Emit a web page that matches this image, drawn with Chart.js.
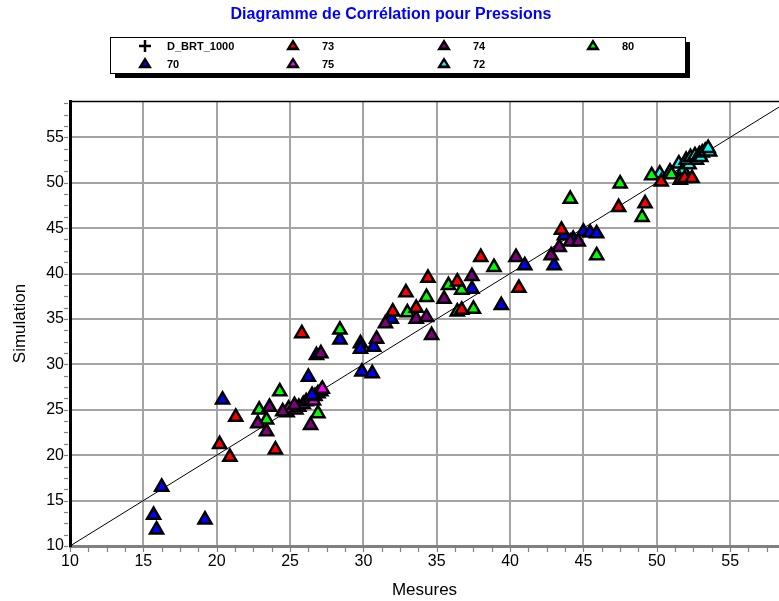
<!DOCTYPE html>
<html><head><meta charset="utf-8">
<script src="https://cdn.jsdelivr.net/npm/chart.js@4.4.0/dist/chart.umd.min.js"></script>
<style>html,body{margin:0;padding:0;background:#fff;}#wrap{position:relative;width:779px;height:601px;overflow:hidden;}</style>
</head><body><div id="wrap"><canvas id="c" width="779" height="601"></canvas></div>
<script>
const chartTitle = 'Diagramme de Corrélation pour Pressions';
const xTitle = 'Mesures';
const yTitle = 'Simulation';
const seriesNames = ['D_BRT_1000', '73', '74', '80', '70', '75', '72'];
const seriesColors = ['#000000', '#ff0000', '#800080', '#00ff00', '#0000ff', '#ff00ff', '#00ffff'];
const xRange = [10, 58.33];
const yRange = [10, 59];
const tickStep = 5;
const minorStep = 1.25;
const diagonal = [[10, 10], [60, 60]];

const sD_BRT_1000 = [];
const s73 = [[20.2,21.2],[20.9,19.8],[21.3,24.2],[24.0,20.6],[25.8,33.4],[32.0,35.8],[32.9,37.9],[33.6,36.2],[34.4,39.5],[36.4,39.1],[36.7,36.0],[38.0,41.8],[40.6,38.4],[43.5,44.8],[47.4,47.3],[49.2,47.7],[50.3,50.1],[51.6,50.3],[51.9,50.5],[52.4,50.5]];
const s74 = [[22.8,23.5],[23.4,22.6],[23.6,25.3],[24.5,24.8],[26.4,23.3],[27.1,31.2],[30.9,32.8],[31.5,34.5],[33.6,35.0],[34.3,35.2],[34.65,33.2],[35.5,37.2],[37.4,39.7],[40.4,41.8],[42.8,42.0],[43.35,42.9],[44.1,43.5],[44.65,43.5],[25.3,25.5]];
const s80 = [[22.9,25.0],[23.4,23.9],[24.3,27.0],[26.9,24.6],[28.4,33.8],[33.0,35.7],[34.3,37.4],[35.8,38.7],[36.7,38.2],[36.4,35.8],[37.5,36.1],[38.9,40.7],[44.1,48.2],[45.9,42.0],[47.5,49.9],[49.0,46.2],[49.65,50.8],[51.0,50.9]];
const s70 = [[15.7,13.4],[15.9,11.8],[16.25,16.5],[19.2,12.9],[20.4,26.1],[26.25,28.6],[26.8,31.0],[28.4,32.7],[29.8,32.3],[29.8,31.7],[30.7,31.9],[29.9,29.2],[30.6,29.0],[31.9,35.0],[37.4,38.3],[39.4,36.5],[41.0,40.9],[43.0,40.9],[43.7,44.2],[45.0,44.6],[45.45,44.5],[45.9,44.4],[44.3,43.8],[26.5,26.6]];
const s75 = [[24.8,24.7],[24.9,25.1],[25.4,25.0],[25.6,25.3],[25.9,25.6],[26.1,25.9],[26.4,26.2],[26.6,26.0],[26.7,26.5],[26.9,26.8],[27.1,27.0],[27.2,27.3]];
const s72 = [[50.2,51.0],[50.9,51.2],[51.5,52.1],[51.8,51.4],[52.2,52.0],[52.0,52.5],[52.7,52.5],[52.3,52.8],[52.6,53.0],[52.9,53.1],[53.0,52.8],[53.1,53.3],[53.3,53.5],[53.6,53.4],[53.5,53.8]];
const seriesData = [sD_BRT_1000, s73, s74, s80, s70, s75, s72];

const FONT = "'Liberation Sans', Arial, sans-serif";

const datasets = seriesNames.map((name, i) => ({
  label: name,
  data: seriesData[i].map(p => ({x: p[0], y: p[1]})),
  showLine: false,
  pointStyle: i === 0 ? 'cross' : 'triangle',
  pointRadius: 7.5,
  pointHoverRadius: 7.5,
  pointBorderWidth: 2.5,
  pointBorderColor: '#000',
  pointBackgroundColor: seriesColors[i],
  order: 1
}));
datasets.push({
  label: 'diag',
  data: diagonal.map(p => ({x: p[0], y: p[1]})),
  showLine: true,
  borderColor: '#000',
  borderWidth: 1,
  pointRadius: 0,
  order: 10
});

const extras = {
  id: 'extras',
  afterDraw(chart) {
    const ctx = chart.ctx;
    const a = chart.chartArea;
    const xs = chart.scales.x, ys = chart.scales.y;
    ctx.save();
    ctx.strokeStyle = '#000'; ctx.lineWidth = 1.5;
    ctx.beginPath(); ctx.moveTo(a.left, a.top + 0.5); ctx.lineTo(a.right, a.top + 0.5); ctx.stroke();
    ctx.strokeStyle = '#808080'; ctx.lineWidth = 1.2;
    for (let v = xRange[0]; v <= xRange[1] + 1e-6; v += minorStep) {
      const px = Math.round(xs.getPixelForValue(v)) + 0.5;
      ctx.beginPath(); ctx.moveTo(px, a.bottom + 1); ctx.lineTo(px, a.bottom + 6); ctx.stroke();
    }
    for (let v = yRange[0]; v <= yRange[1] + 1e-6; v += minorStep) {
      const py = Math.round(ys.getPixelForValue(v)) + 0.5;
      ctx.beginPath(); ctx.moveTo(a.left - 2, py); ctx.lineTo(a.left - 6, py); ctx.stroke();
    }
    ctx.fillStyle = '#0000ff';
    ctx.font = 'bold 16px ' + FONT;
    ctx.textAlign = 'center'; ctx.textBaseline = 'middle';
    ctx.fillText(chartTitle, 391, 15);
    const L = 110, T = 37, R = 685, B = 73;
    ctx.fillStyle = '#000';
    ctx.fillRect(L + 5, T + 5, R - L, B - T);
    ctx.fillStyle = '#fff';
    ctx.fillRect(L, T, R - L, B - T);
    ctx.strokeStyle = '#000'; ctx.lineWidth = 1;
    ctx.strokeRect(L + 0.5, T + 0.5, R - L, B - T);
    const symX = [145, 293, 444, 593];
    const txtX = [167, 322, 473, 622];
    const rowY = [46, 64];
    ctx.font = 'bold 11px ' + FONT;
    ctx.textAlign = 'left';
    seriesNames.forEach((name, i) => {
      const col = i % 4, row = Math.floor(i / 4);
      const cx = symX[col], cy = rowY[row];
      if (i === 0) {
        ctx.strokeStyle = '#000'; ctx.lineWidth = 2.5;
        ctx.beginPath(); ctx.moveTo(cx - 6, cy); ctx.lineTo(cx + 6, cy);
        ctx.moveTo(cx, cy - 6); ctx.lineTo(cx, cy + 6); ctx.stroke();
      } else {
        const tri = (r, color) => {
          ctx.fillStyle = color; ctx.beginPath();
          ctx.moveTo(cx, cy - r);
          ctx.lineTo(cx + r * 0.866 * 1.15, cy + r * 0.6);
          ctx.lineTo(cx - r * 0.866 * 1.15, cy + r * 0.6);
          ctx.closePath(); ctx.fill();
        };
        tri(7, '#000');
        tri(2.6, seriesColors[i]);
      }
      ctx.fillStyle = '#000';
      ctx.fillText(name, txtX[col], cy + 0.5);
    });
    ctx.restore();
  }
};

new Chart(document.getElementById('c'), {
  type: 'scatter',
  data: {datasets},
  options: {
    responsive: false,
    animation: false,
    devicePixelRatio: 1,
    layout: {autoPadding: false, padding: {top: 101, right: 0, left: 0, bottom: 0}},
    plugins: {legend: {display: false}, title: {display: false}, tooltip: {enabled: false}},
    scales: {
      x: {
        type: 'linear', min: xRange[0], max: xRange[1],
        afterFit: s => { s.height = 55; s.paddingRight = 0; s.paddingLeft = 0; },
        afterBuildTicks: s => { s.ticks = s.ticks.filter(t => Math.abs(t.value / tickStep - Math.round(t.value / tickStep)) < 1e-6); },
        ticks: {stepSize: tickStep, includeBounds: false, color: '#000', font: {family: FONT, size: 16}, padding: 6, maxRotation: 0},
        grid: {color: '#a4a4a4', lineWidth: 2, drawTicks: false},
        border: {display: true, color: '#808080', width: 3},
        title: {display: true, text: xTitle, color: '#000', font: {family: FONT, size: 17}, padding: {top: 0, bottom: 0}}
      },
      y: {
        type: 'linear', min: yRange[0], max: yRange[1],
        afterFit: s => { s.width = 70; s.paddingTop = 0; s.paddingBottom = 0; },
        afterBuildTicks: s => { s.ticks = s.ticks.filter(t => Math.abs(t.value / tickStep - Math.round(t.value / tickStep)) < 1e-6); },
        ticks: {stepSize: tickStep, includeBounds: false, color: '#000', font: {family: FONT, size: 16}, padding: 6},
        grid: {color: '#a4a4a4', lineWidth: 2, drawTicks: false},
        border: {display: true, color: '#000', width: 3},
        title: {display: true, text: yTitle, color: '#000', font: {family: FONT, size: 17}, padding: {top: 10, bottom: 0}}
      }
    }
  },
  plugins: [extras]
});
</script></body></html>
